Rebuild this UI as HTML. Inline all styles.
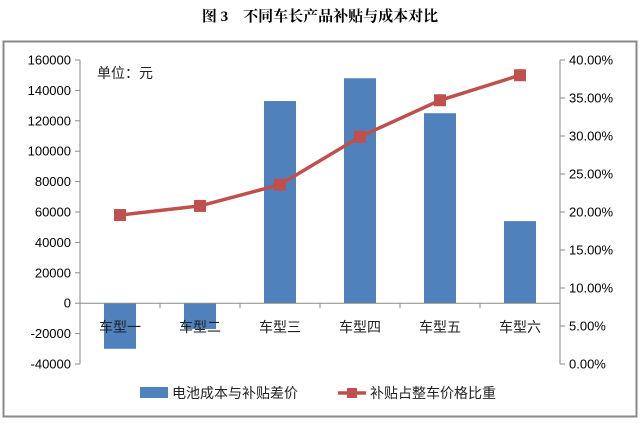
<!DOCTYPE html>
<html><head><meta charset="utf-8"><style>
body{margin:0;background:#fff;width:640px;height:421px;overflow:hidden;font-family:"Liberation Sans","Noto Sans CJK SC",sans-serif}
</style></head><body>
<svg id="c" width="640" height="421" xmlns="http://www.w3.org/2000/svg" font-family="Liberation Sans, Noto Sans CJK SC, sans-serif">
<text x="320" y="21" text-anchor="middle" font-size="15" font-weight="bold" font-family="Liberation Serif, Noto Serif CJK SC, serif">图 3　不同车长产品补贴与成本对比</text>
<rect x="3.5" y="41.5" width="633" height="375" fill="#fff" stroke="#888" stroke-width="2"/>
<text x="97" y="78" font-size="14" fill="#222">单位：元</text>
<g id="g"></g>
</svg>
<script>
const categories=["车型一","车型二","车型三","车型四","车型五","车型六"];
const costDiff=[-30000,-17000,133000,148000,125000,54000];
const ratio=[0.196,0.208,0.236,0.299,0.347,0.380];
const leftTicks=[160000,140000,120000,100000,80000,60000,40000,20000,0,-20000,-40000];
const rightTicks=[0.40,0.35,0.30,0.25,0.20,0.15,0.10,0.05,0];
const NS="http://www.w3.org/2000/svg";
const g=document.getElementById('g');
const X0=80,X1=560,YT=60,YB=364;
const yL=v=>YB-(v+40000)/200000*(YB-YT);
const yR=v=>YB-v/0.40*(YB-YT);
const bw=(X1-X0)/categories.length;
const xC=i=>X0+bw*(i+0.5);
function el(t,a,txt){const e=document.createElementNS(NS,t);for(const k in a)e.setAttribute(k,a[k]);if(txt!==undefined)e.textContent=txt;g.appendChild(e);return e;}
// axes
let e=el('line',{x1:X0,y1:YT,x2:X0,y2:YB,stroke:'#888'});

e=el('line',{x1:X1,y1:YT,x2:X1,y2:YB,stroke:'#888'});

leftTicks.forEach(v=>{const y=yL(v);
 el('line',{x1:X0-5,y1:y,x2:X0,y2:y,stroke:'#888'});
 e=el('text',{x:X0-9,y:y+4.5,'text-anchor':'end','font-size':'13',fill:'#000'},String(v));
 });
rightTicks.forEach(v=>{const y=yR(v);
 el('line',{x1:X1,y1:y,x2:X1+5,y2:y,stroke:'#888'});
 e=el('text',{x:X1+9,y:y+4.5,'font-size':'13',fill:'#000'},(v*100).toFixed(2)+'%');
 });
// bars
costDiff.forEach((v,i)=>{const y0=yL(0),y=yL(v);
 e=el('rect',{x:xC(i)-16,y:Math.min(y,y0),width:32,height:Math.abs(y-y0),fill:'#4f81bd'});
 });
// zero axis
const z=yL(0);
e=el('line',{x1:X0,y1:z,x2:X1,y2:z,stroke:'#888'});

for(let i=0;i<=categories.length;i++){el('line',{x1:X0+bw*i,y1:z,x2:X0+bw*i,y2:z+5,stroke:'#888'});}
categories.forEach((c,i)=>{e=el('text',{x:xC(i),y:332,'text-anchor':'middle','font-size':'14',fill:'#222'},c);
 });
// line
e=el('polyline',{points:ratio.map((v,i)=>xC(i)+','+yR(v)).join(' '),fill:'none',stroke:'#c0504d','stroke-width':3.5});

ratio.forEach((v,i)=>{e=el('rect',{x:xC(i)-6,y:yR(v)-6,width:12,height:12,fill:'#c0504d'});
 });
// legend
e=el('rect',{x:140,y:387,width:28,height:11,fill:'#4f81bd'});

e=el('text',{x:172,y:398,'font-size':'14',fill:'#222'},'电池成本与补贴差价');

el('line',{x1:338,y1:393,x2:366,y2:393,stroke:'#c0504d','stroke-width':3.5});
e=el('rect',{x:347,y:388,width:10,height:10,fill:'#c0504d'});

e=el('text',{x:370,y:398,'font-size':'14',fill:'#222'},'补贴占整车价格比重');

</script>
</body></html>
